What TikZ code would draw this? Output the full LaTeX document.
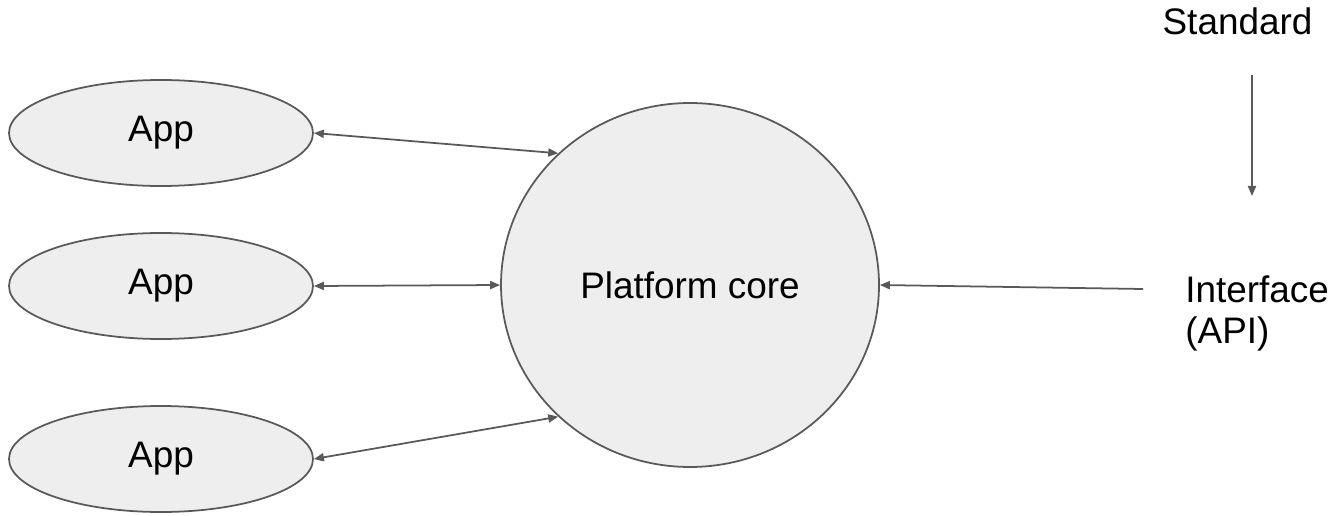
\documentclass[tikz,border=0pt]{standalone}
\usepackage{fontspec}
\setmainfont{Liberation Sans}
\usepackage{xcolor}
\usetikzlibrary{arrows.meta}
\usetikzlibrary{shapes}

\definecolor{linie}{HTML}{595959}
\definecolor{fuellung}{HTML}{EEEEEE}

\tikzset{
  pfeil/.style={draw=linie, line width=1pt, -{Triangle[length=5.7pt, width=4.6pt]}},
  doppelpfeil/.style={pfeil, {Triangle[length=5.7pt, width=4.6pt]}-{Triangle[length=5.7pt, width=4.6pt]}},
  app/.style={ellipse, draw=linie, line width=1pt, fill=fuellung, inner sep=0pt,
    minimum width=6.08cm, minimum height=2.12cm},
  schrift/.style={font=\fontsize{21pt}{23.3pt}\selectfont}
}

\begin{document}
\begin{tikzpicture}
\useasboundingbox (0,0) rectangle (26.68,10.3);
% Die drei Apps links:
\node[app, schrift] (app1) at (3.22,7.64) {App};
\node[app, schrift] (app2) at (3.22,4.58) {App};
\node[app, schrift] (app3) at (3.22,1.12) {App};
% Der Kern in der Mitte:
\node[ellipse, draw=linie, line width=1pt, fill=fuellung, schrift,
  minimum width=7.56cm, minimum height=7.28cm] (kern) at (13.8,4.6) {Platform core};
% Beschriftungen rechts:
\node[schrift, anchor=base, inner sep=0pt] (standard) at (24.75,9.6) {Standard};
\node[schrift, anchor=north west, align=left, inner sep=0pt] (schnitt) at (23.7,4.8) {Interface\\(API)};
\coordinate (std-oben) at (25.04,8.8);
\coordinate (std-unten) at (25.04,6.38);
\coordinate (api-ein) at (22.86,4.52);
% Verbindungen:
\draw[doppelpfeil] (app1.east) -- (kern.135);
\draw[doppelpfeil] (app2.east) -- (kern.west);
\draw[doppelpfeil] (app3.east) -- (kern.-135);
\draw[pfeil] (api-ein) -- (kern.east);
\draw[pfeil] (std-oben) -- (std-unten);
\end{tikzpicture}
\end{document}
